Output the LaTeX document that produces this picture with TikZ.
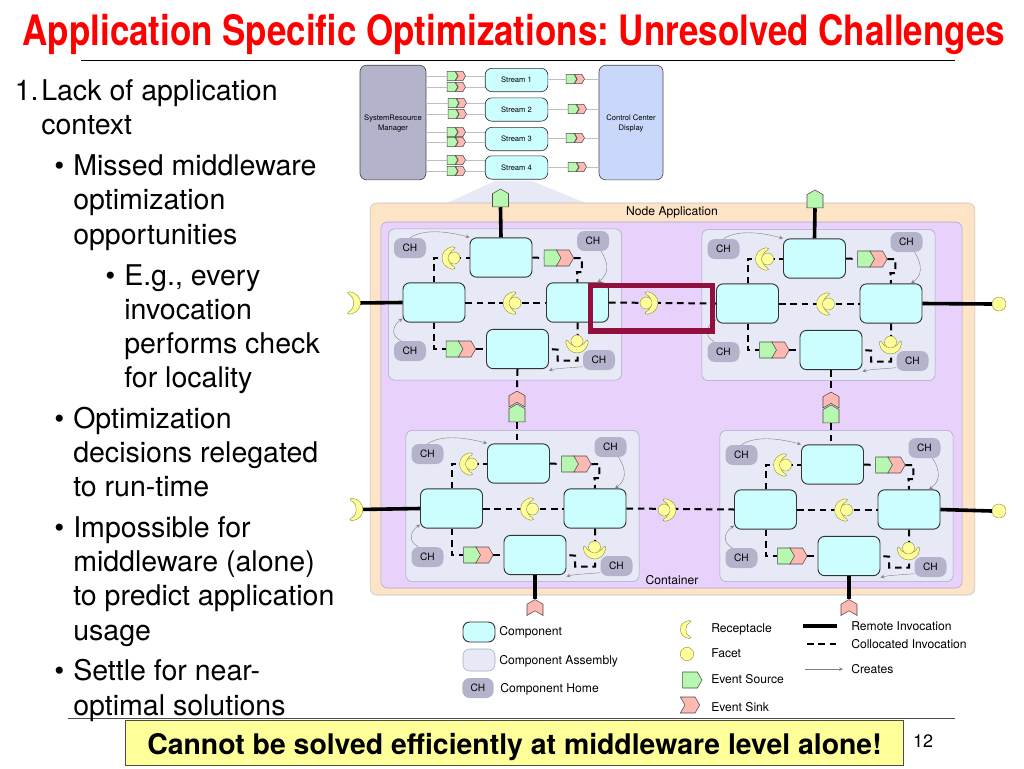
\documentclass[tikz,border=0pt]{standalone}
\usepackage{fontspec}
\setmainfont{TeX Gyre Heros}
\newfontfamily\titlefont[FakeStretch=0.835]{TeX Gyre Heros}
\usetikzlibrary{arrows,shapes.symbols}
\definecolor{compfill}{HTML}{CCFDFF}
\definecolor{asmfill}{HTML}{E7EAF6}
\definecolor{asmline}{HTML}{A9A5C6}
\definecolor{homefill}{HTML}{B3B3CC}
\definecolor{ctrlfill}{HTML}{C9D7FB}
\definecolor{nodefill}{HTML}{FEE4C6}
\definecolor{contfill}{HTML}{E8D1FB}
\definecolor{srcfill}{HTML}{B8F7B0}
\definecolor{snkfill}{HTML}{FFB9B3}
\definecolor{yel}{HTML}{FFFF99}
\definecolor{yelline}{HTML}{8F8A3A}
\definecolor{hilite}{HTML}{930F3D}
\tikzset{
  txt/.style={anchor=base west,inner sep=0pt,yshift=-0.75pt,font=\fontsize{21.4}{25}\selectfont},
  small/.style={inner sep=0pt,font=\fontsize{9.1}{11}\selectfont},
  tiny/.style={inner sep=0pt,align=center,font=\fontsize{5.7}{7.5}\selectfont},
  comp/.style={draw=black!80,line width=0.7pt,fill=compfill,rounded corners=5pt,minimum width=46.5pt,minimum height=29.5pt,inner sep=0pt},
  assembly/.style={draw=asmline,line width=0.4pt,fill=asmfill,rounded corners=5pt,minimum width=175pt,minimum height=113.5pt},
  home/.style={fill=homefill,rounded corners=5.5pt,minimum width=24pt,minimum height=15pt,inner sep=0pt,font=\fontsize{7.6}{9}\selectfont},
  src/.style={shape=signal,signal to=east,draw=black!70,line width=0.4pt,fill=srcfill,signal pointer angle=120,minimum width=13pt,minimum height=12pt,inner sep=0pt},
  snk/.style={src,signal from=west,fill=snkfill},
  srcup/.style={src,signal to=north,minimum width=12pt,minimum height=10pt},
  snkup/.style={snk,signal to=north,signal from=south,minimum width=12pt,minimum height=5pt},
  pairsrc/.style={src,minimum width=8pt,minimum height=7pt},
  pairsnk/.style={snk,minimum width=7.5pt,minimum height=7pt},
  facet/.style={circle,draw=yelline,line width=0.3pt,fill=yel,minimum size=9pt,inner sep=0pt},
  remote/.style={line width=2.7pt},
  colloc/.style={line width=1.5pt,dash pattern=on 5pt off 3.5pt},
  creates/.style={draw=black!50,line width=0.3pt,->,>=stealth},
  faint/.style={draw=black!25,line width=0.5pt},
  recep/.pic={\draw[draw=yelline,line width=0.3pt,fill=yel,rounded corners=1pt]
    (0,-11.5) .. controls (-15.5,-9) and (-15.5,9) .. (0,11.5) -- (1.5,9.5) .. controls (-7,6) and (-7,-6) .. (1.5,-9.5) -- cycle;}
}
\begin{document}
\frenchspacing
\begin{tikzpicture}[x=0.75pt,y=-0.75pt]
\useasboundingbox (0,0) rectangle (1024,768);
\fill[white] (0,0) rectangle (1024,768);
% title
\node[inner sep=0pt,anchor=base,text=red] (title) at (514,45) {\titlefont\fontsize{31.4}{34}\selectfont\bfseries Application Specific Optimizations: Unresolved Challenges};
\draw[line width=0.6pt] (81,60.5) -- (955,60.5);
\draw[line width=0.9pt,black!70] (68,718.7) -- (955,718.7);
% left text
\node[txt] (n1) at (14.5,99.5) {1.};
\node[txt] (t1) at (41,99.5) {Lack of application};
\node[txt] (t2) at (41,133.5) {context};
\node[txt] (b1) at (54,174) {\textbullet};
\node[txt] (t3) at (73,174) {Missed middleware};
\node[txt] (t4) at (73,208) {optimization};
\node[txt] (t5) at (73,243) {opportunities};
\node[txt] (b2) at (105,284) {\textbullet};
\node[txt] (t6) at (124,284) {E.g., every};
\node[txt] (t7) at (124,318) {invocation};
\node[txt] (t8) at (124,352) {performs check};
\node[txt] (t9) at (124,386) {for locality};
\node[txt] (b3) at (54,427) {\textbullet};
\node[txt] (t10) at (73,427) {Optimization};
\node[txt] (t11) at (73,461) {decisions relegated};
\node[txt] (t12) at (73,495) {to run-time};
\node[txt] (b4) at (54,536) {\textbullet};
\node[txt] (t13) at (73,536) {Impossible for};
\node[txt] (t14) at (73,570) {middleware (alone)};
\node[txt] (t15) at (73,604) {to predict application};
\node[txt] (t16) at (73,639) {usage};
\node[txt] (b5) at (54,679.5) {\textbullet};
\node[txt] (t17) at (73,679.5) {Settle for near-};
\node[txt] (t18) at (73,714) {optimal solutions};
% streams
\fill[asmfill] (495,181) -- (532,181) -- (588,204) -- (445,204) -- cycle;
\node[draw=black!70,line width=0.5pt,fill=homefill,rounded corners=5pt,minimum width=49.5pt,minimum height=86pt] (mgr) at (393,122.5) {};
\node[draw=black!70,line width=0.5pt,fill=ctrlfill,rounded corners=5pt,minimum width=48pt,minimum height=86pt] (ctrl) at (631,122.5) {};
\node[tiny] (mgrlbl) at (393,123) {SystemResource\\Manager};
\node[tiny] (ctrllbl) at (631,123) {Control Center\\Display};
\foreach \n/\ys/\ya/\yb/\yc/\xa/\xc in {1/80/76/87/79/0/0,2/109.5/103/114/109/1/2,3/139/132/142/138/0/0,4/167.5/160/171/167/0/2}{
  \node[comp,line width=0.5pt,minimum width=47pt,minimum height=17.5pt,tiny] (st\n) at (516.5,\ys) {Stream \n};
  \node[pairsrc] (sa\n) at (451+\xa,\ya) {};
  \node[pairsnk] (ka\n) at (460.5+\xa,\ya) {};
  \node[pairsrc] (sb\n) at (451+\xa,\yb) {};
  \node[pairsnk] (kb\n) at (460.5+\xa,\yb) {};
  \node[pairsrc] (sc\n) at (570+\xc,\yc) {};
  \node[pairsnk] (kc\n) at (579.5+\xc,\yc) {};
  \draw[faint] (mgr.east |- sa\n.west) -- (sa\n.west);
  \draw[faint] (ka\n.east) -- (st\n.west |- ka\n.east);
  \draw[faint] (mgr.east |- sb\n.west) -- (sb\n.west);
  \draw[faint] (kb\n.east) -- (st\n.west |- kb\n.east);
  \draw[faint] (st\n.east |- sc\n.west) -- (sc\n.west);
  \draw[faint] (kc\n.east) -- (ctrl.west |- kc\n.east);
}
% containers
\node[draw=black!25,line width=0.4pt,fill=nodefill,rounded corners=5pt,minimum width=453.5pt,minimum height=294pt] (nodeapp) at (672.5,399) {};
\node[draw=asmline,line width=0.4pt,fill=contfill,rounded corners=5pt,minimum width=436pt,minimum height=274.5pt] (cont) at (671.5,405) {};
\node[small] (nodelbl) at (672,212) {Node Application};
\node[small] (contlbl) at (672,580) {Container};
% assemblies
\foreach \nm/\ox/\oy/\by in {A/0/0/304.5,B/313.5/1/304,C/17.5/206/300,D/331.5/207/299}{
\begin{scope}[shift={(\ox,\oy)},name prefix=\nm-]
  \node[assembly] (box) at (505,\by) {};
  \node[comp] (top) at (501,257.5) {};
  \node[comp] (left) at (434,302.5) {};
  \node[comp] (right) at (577.5,302.5) {};
  \node[comp] (bot) at (517.5,349) {};
  \node[home] (htl) at (410,248) {CH};
  \node[home] (htr) at (593,241) {CH};
  \node[home] (hbl) at (410,351) {CH};
  \node[home] (hbr) at (599,360) {CH};
  \node[src] (stop) at (550.5,258) {};
  \node[snk] (ktop) at (565,258) {};
  \node[src] (sbot) at (452.5,349) {};
  \node[snk] (kbot) at (467,349) {};
  % collocated
  \draw[colloc] (left.north) |- (top.west);
  \draw[colloc] (left.east) -- (right.west);
  \draw[colloc] (top.east) -- (stop.west);
  \draw[colloc] (ktop.east) -- ++(8,0) -- ++(0,14) -- ++(-5,0) -- (right.north);
  \draw[colloc] (left.south) |- (sbot.west);
  \draw[colloc] (kbot.east) -- (bot.west);
  \draw[colloc] (right.south) -- ++(0,38) -- ++(-20,0) -- ++(0,-11) -- (bot.east);
  % creates
  \draw[creates] (htl.north) .. controls (425,228) and (450,232) .. (top.north west);
  \draw[creates] ([xshift=6pt]htr.south) .. controls (610,265) and (608,275) .. ([xshift=15pt]right.north);
  \draw[creates] ([xshift=-7pt]hbl.north) .. controls (390,335) and (393,325) .. ([yshift=3pt]left.south west);
  \draw[creates] ([yshift=-5pt]hbr.west) .. controls (570,368) and (558,368) .. ([yshift=-1pt]bot.south east);
  % facets
  \pic at (454,258) {recep};
  \node[facet] (ftop) at (454,258) {};
  \pic at (515,303) {recep};
  \node[facet] (fmid) at (515,303) {};
  \pic[rotate=90] at (577,341) {recep};
  \node[facet] (fbot) at (577,341) {};
\end{scope}
}
% links between assemblies
\node[srcup] (pa) at (500.5,200.3) {};
\node[srcup] (pb) at (815,201.3) {};
\draw[remote] (A-top.north) -- (pa.south);
\draw[remote] (B-top.north) -- (pb.south);
\node[snkup] (kac) at (517,399) {};
\node[srcup] (sac) at (517,415.3) {};
\draw[colloc] (A-bot.south) -- (kac.north);
\draw[colloc] (sac.south) -- (sac.south |- C-top.north);
\node[snkup] (kbd) at (831,400) {};
\node[srcup] (sbd) at (831,416.3) {};
\draw[colloc] (B-bot.south) -- (kbd.north);
\draw[colloc] (sbd.south) -- (sbd.south |- D-top.north);
\node[snkup] (pc) at (535,607.5) {};
\node[snkup] (pd) at (849,607.5) {};
\draw[remote] (C-bot.south) -- (pc.north);
\draw[remote] (D-bot.south) -- (pd.north);
\coordinate (ra) at (356,303);
\coordinate (rc) at (358,509.5);
\draw[remote] (A-left.west) -- (ra);
\draw[remote] (C-left.west) -- (rc);
\pic[rotate=180] at (348.5,303) {recep};
\pic[rotate=180] at (351,509.5) {recep};
\draw[colloc] (A-right.east) -- (B-left.west);
\draw[colloc] (C-right.east) -- (D-left.west);
\pic[rotate=180] at (646,303) {recep};
\node[facet] (fab) at (646,303) {};
\pic[rotate=180] at (664,510) {recep};
\node[facet] (fcd) at (664,510) {};
\node[facet,minimum size=10.5pt] (fb) at (999,304) {};
\node[facet,minimum size=10.5pt] (fd) at (999,511) {};
\draw[remote] (B-right.east) -- (fb.west);
\draw[remote] (D-right.east) -- (fd.west);
\draw[hilite,line width=4pt] (590.5,285.5) rectangle (712.5,331);
% legend
\node[comp,minimum width=24pt,minimum height=15pt] (lcomp) at (479,632) {};
\node[assembly,minimum width=24pt,minimum height=16.5pt] (lasm) at (479,660) {};
\node[home,minimum width=23.5pt] (lhome) at (478,688) {CH};
\node[small,anchor=west] (lcompt) at (499,632) {Component};
\node[small,anchor=west] (lasmt) at (499,661) {Component Assembly};
\node[small,anchor=west] (lhomet) at (500,689) {Component Home};
\pic[scale=0.8] at (690,629.5) {recep};
\node[facet,minimum size=10pt] (lfac) at (687,654) {};
\node[src,minimum width=14.5pt,minimum height=12pt] (lsrc) at (690,680) {};
\node[snk,minimum width=14.5pt,minimum height=12pt] (lsnk) at (690,705) {};
\node[small,anchor=west] (lrect) at (711,629) {Receptacle};
\node[small,anchor=west] (lfact) at (711,653) {Facet};
\node[small,anchor=west] (lsrct) at (711,679) {Event Source};
\node[small,anchor=west] (lsnkt) at (711,707) {Event Sink};
\node[small,anchor=west] (lrem) at (851,626) {Remote Invocation};
\node[small,anchor=west] (lcol) at (851,644) {Collocated Invocation};
\node[small,anchor=west] (lcre) at (851,669) {Creates};
\coordinate (lr1) at (803,626);
\coordinate (lr2) at (837,626);
\coordinate (lc1) at (807,644);
\coordinate (lc2) at (837,644);
\coordinate (la1) at (805,669);
\coordinate (la2) at (843,669);
\draw[line width=2.4pt] (lr1) -- (lr2);
\draw[colloc,line width=1.3pt] (lc1) -- (lc2);
\draw[creates] (la1) -- (la2);
% bottom
\node[draw=black!70,line width=0.8pt,fill=yel,minimum width=584pt,minimum height=34pt,inner sep=0pt,text height=18.5pt,text depth=1.8pt,font=\fontsize{21.3}{24}\selectfont\bfseries] (msg) at (514.5,743.2) {Cannot be solved efficiently at middleware level alone!};
\node[inner sep=0pt,font=\fontsize{13.5}{16}\selectfont] (pg) at (923,741) {12};
\end{tikzpicture}
\end{document}
